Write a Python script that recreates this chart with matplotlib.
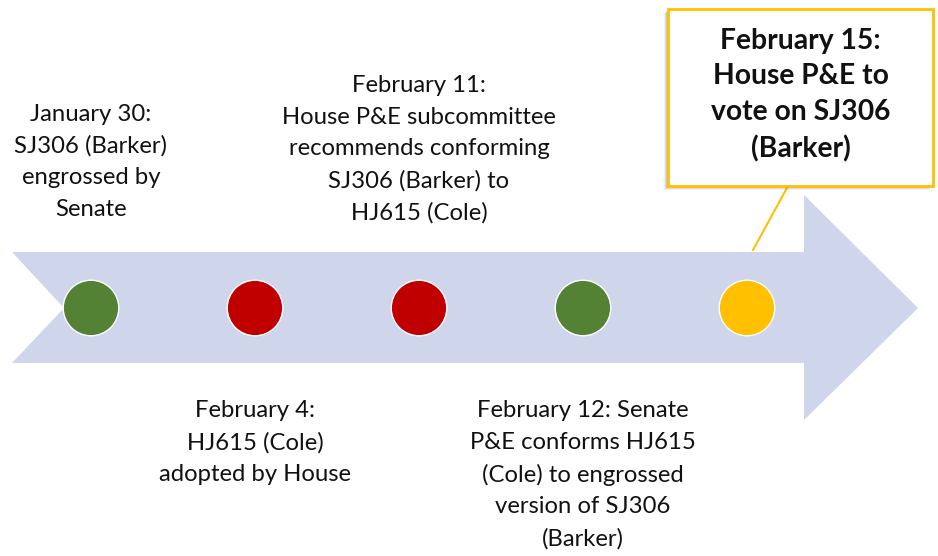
import matplotlib.pyplot as plt
from matplotlib.patches import Polygon, Rectangle
import numpy as np

# timeline data
dates = ["January 30", "February 4", "February 11", "February 12", "February 15"]
events = [
    "SJ306 (Barker)\nengrossed by\nSenate",
    "HJ615 (Cole)\nadopted by House",
    "House P&E subcommittee\nrecommends conforming\nSJ306 (Barker) to\nHJ615 (Cole)",
    "Senate\nP&E conforms HJ615\n(Cole) to engrossed\nversion of SJ306\n(Barker)",
    "House P&E to\nvote on SJ306\n(Barker)",
]
statuses = ["done", "failed", "failed", "done", "pending"]
status_colors = {"done": "#548235", "failed": "#C00000", "pending": "#FFC000"}

plt.rcParams['font.family'] = ['Lato', 'DejaVu Sans']

fig = plt.figure(figsize=(9.38, 5.56), dpi=100)
ax = fig.add_axes([0, 0, 1, 1])
ax.set_xlim(0, 938)
ax.set_ylim(556, 0)
ax.axis("off")

# big arrow (pixel layout)
arrow = Polygon([(12, 252), (804, 252), (804, 195), (918, 308), (804, 420),
                 (804, 363), (12, 363), (64, 308)],
                closed=True, facecolor="#CFD5EA", edgecolor="none", zorder=1)
ax.add_patch(arrow)

x0, step, yline = 91, 164, 308
xs = x0 + step * np.arange(len(dates))
ax.scatter(xs, [yline] * len(xs), s=1600,
           c=[status_colors[s] for s in statuses],
           edgecolors="white", linewidths=1, zorder=3)

fs = 17.2
# labels above / below alternating, last one in the callout box
for i, (d, ev) in enumerate(zip(dates[:-1], events[:-1])):
    if d == "February 12":
        txt = f"{d}: {ev}"
    else:
        txt = f"{d}:\n{ev}"
    if i % 2 == 0:
        ybot = 220 if i == 0 else 224
        ax.text(xs[i], ybot, txt, ha="center", va="bottom", fontsize=fs,
                linespacing=1.62, color="#111111", zorder=4)
    else:
        ax.text(xs[i], 400, txt, ha="center", va="top", fontsize=fs,
                linespacing=1.62, color="#111111", zorder=4)

# callout for the upcoming vote
bx0, by0, bx1, by1 = 668, 9, 933, 186
for k, a in enumerate([0.06, 0.08, 0.1]):
    off = 4 - k
    ax.add_patch(Rectangle((bx0 - off, by0 + off), bx1 - bx0, by1 - by0,
                           facecolor="black", alpha=a, edgecolor="none", zorder=4))
ax.add_patch(Rectangle((bx0, by0), bx1 - bx0, by1 - by0, facecolor="white",
                       edgecolor="#FFC000", linewidth=2, zorder=5))
ax.plot([788, 753], [by1, 250], color="#FFC000", linewidth=1.5, zorder=2)
ax.text((bx0 + bx1) / 2, 95, f"{dates[-1]}:\n{events[-1]}",
        ha="center", va="center", fontsize=20.3, fontweight="bold",
        linespacing=1.45, color="#111111", zorder=6)

fig.savefig("out.png", dpi=100)
